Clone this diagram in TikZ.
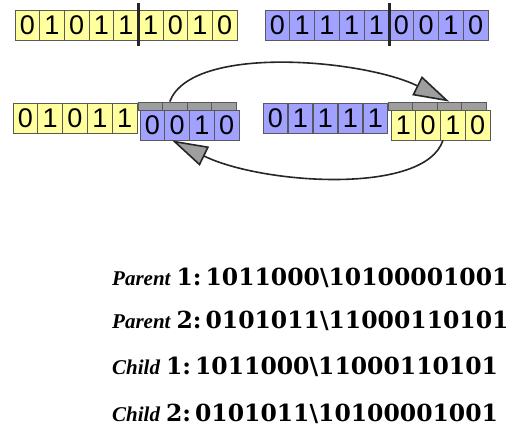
\documentclass[tikz,border=0pt]{standalone}
\usepackage{fontspec}
\setmainfont{DejaVu Serif}
\newfontfamily\bitfont{Liberation Sans}
\newfontfamily\rolefont{Liberation Serif}
\usetikzlibrary{arrows.meta}

\definecolor{bityellow}{rgb}{1.000000, 1.000000, 0.620000}
\definecolor{bitblue}{rgb}{0.630000, 0.630000, 1.000000}
\definecolor{bitgray}{rgb}{0.620000, 0.620000, 0.620000}
\definecolor{gridline}{rgb}{0.350000, 0.350000, 0.350000}
\definecolor{arcline}{rgb}{0.150000, 0.150000, 0.150000}

\newcommand{\rolelabel}[1]{{\rolefont\bfseries\itshape\fontsize{21}{21}\selectfont #1}\hspace{6pt}}

\tikzset{
  cell/.style={draw=gridline, line width=0.8pt, minimum width=24.7pt, minimum height=30pt, inner sep=0pt, font=\bitfont\fontsize{27}{27}\selectfont},
  ycell/.style={cell, fill=bityellow},
  bcell/.style={cell, fill=bitblue},
  gcell/.style={draw=gridline, line width=0.8pt, fill=bitgray, minimum width=24.5pt, minimum height=8pt, inner sep=0pt},
  cutmark/.style={draw=arcline, line width=3pt, line cap=rect},
  swaparc/.style={draw=arcline, line width=1.6pt, -{Triangle[length=36pt,width=21pt,fill=bitgray]}},
  result/.style={anchor=base west, inner sep=0pt, font=\bfseries\fontsize{23.5}{23.5}\selectfont},
}

\begin{document}
\begin{tikzpicture}[x=1pt, y=-1pt]
\useasboundingbox (0,0) rectangle (523,426);

% parent 1
\node[ycell] (pa1) at (27.33,25) {0};
\node[ycell] (pa2) at (52.00,25) {1};
\node[ycell] (pa3) at (76.67,25) {0};
\node[ycell] (pa4) at (101.33,25) {1};
\node[ycell] (pa5) at (126.00,25) {1};
\node[ycell] (pa6) at (150.67,25) {1};
\node[ycell] (pa7) at (175.33,25) {0};
\node[ycell] (pa8) at (200.00,25) {1};
\node[ycell] (pa9) at (224.67,25) {0};
\draw[cutmark] (pa5.north east) ++(0,-5) -- ++(0,40);

% parent 2
\node[bcell] (pb1) at (277.40,25) {0};
\node[bcell] (pb2) at (302.20,25) {1};
\node[bcell] (pb3) at (327.00,25) {1};
\node[bcell] (pb4) at (351.70,25) {1};
\node[bcell] (pb5) at (376.50,25) {1};
\node[bcell] (pb6) at (401.30,25) {0};
\node[bcell] (pb7) at (426.10,25) {0};
\node[bcell] (pb8) at (450.80,25) {1};
\node[bcell] (pb9) at (475.60,25) {0};
\draw[cutmark] (pb5.north east) ++(0,-5) -- ++(0,40);

% child 1
\node[ycell] (ca1) at (25.40,118) {0};
\node[ycell] (ca2) at (50.20,118) {1};
\node[ycell] (ca3) at (75.00,118) {0};
\node[ycell] (ca4) at (99.80,118) {1};
\node[ycell] (ca5) at (124.60,118) {1};
\node[gcell] (cag1) at (150.25,106) {};
\node[gcell] (cag2) at (174.75,106) {};
\node[gcell] (cag3) at (199.25,106) {};
\node[gcell] (cag4) at (223.75,106) {};
\node[bcell] (cat1) at (152.40,125) {0};
\node[bcell] (cat2) at (177.10,125) {0};
\node[bcell] (cat3) at (201.90,125) {1};
\node[bcell] (cat4) at (226.60,125) {0};

% child 2
\node[bcell] (cb1) at (275.50,118) {0};
\node[bcell] (cb2) at (300.50,118) {1};
\node[bcell] (cb3) at (325.50,118) {1};
\node[bcell] (cb4) at (350.50,118) {1};
\node[bcell] (cb5) at (375.50,118) {1};
\node[gcell] (cbg1) at (400.25,106) {};
\node[gcell] (cbg2) at (424.75,106) {};
\node[gcell] (cbg3) at (449.25,106) {};
\node[gcell] (cbg4) at (473.75,106) {};
\node[ycell] (cbt1) at (403.40,125) {1};
\node[ycell] (cbt2) at (428.10,125) {0};
\node[ycell] (cbt3) at (452.90,125) {1};
\node[ycell] (cbt4) at (477.60,125) {0};

% swap arcs
\draw[swaparc] ([xshift=-5pt]cag2.north) .. controls +(22,-58) and +(-85,-42) .. (cbg3.north);
\draw[swaparc] ([xshift=-10pt]cbt3.south) .. controls +(-18,55) and +(90,44) .. ([xshift=-5pt]cat2.south);

% strings
\node[result] (par1) at (112,285) {\rolelabel{Parent}1:\hspace{4pt}1011000\textbackslash10100001001};
\node[result] (par2) at (112,328) {\rolelabel{Parent}2:\hspace{4pt}0101011\textbackslash11000110101};
\node[result] (chi1) at (112,374) {\rolelabel{Child}1:\hspace{4pt}1011000\textbackslash11000110101};
\node[result] (chi2) at (112,421) {\rolelabel{Child}2:\hspace{4pt}0101011\textbackslash10100001001};
\end{tikzpicture}
\end{document}
